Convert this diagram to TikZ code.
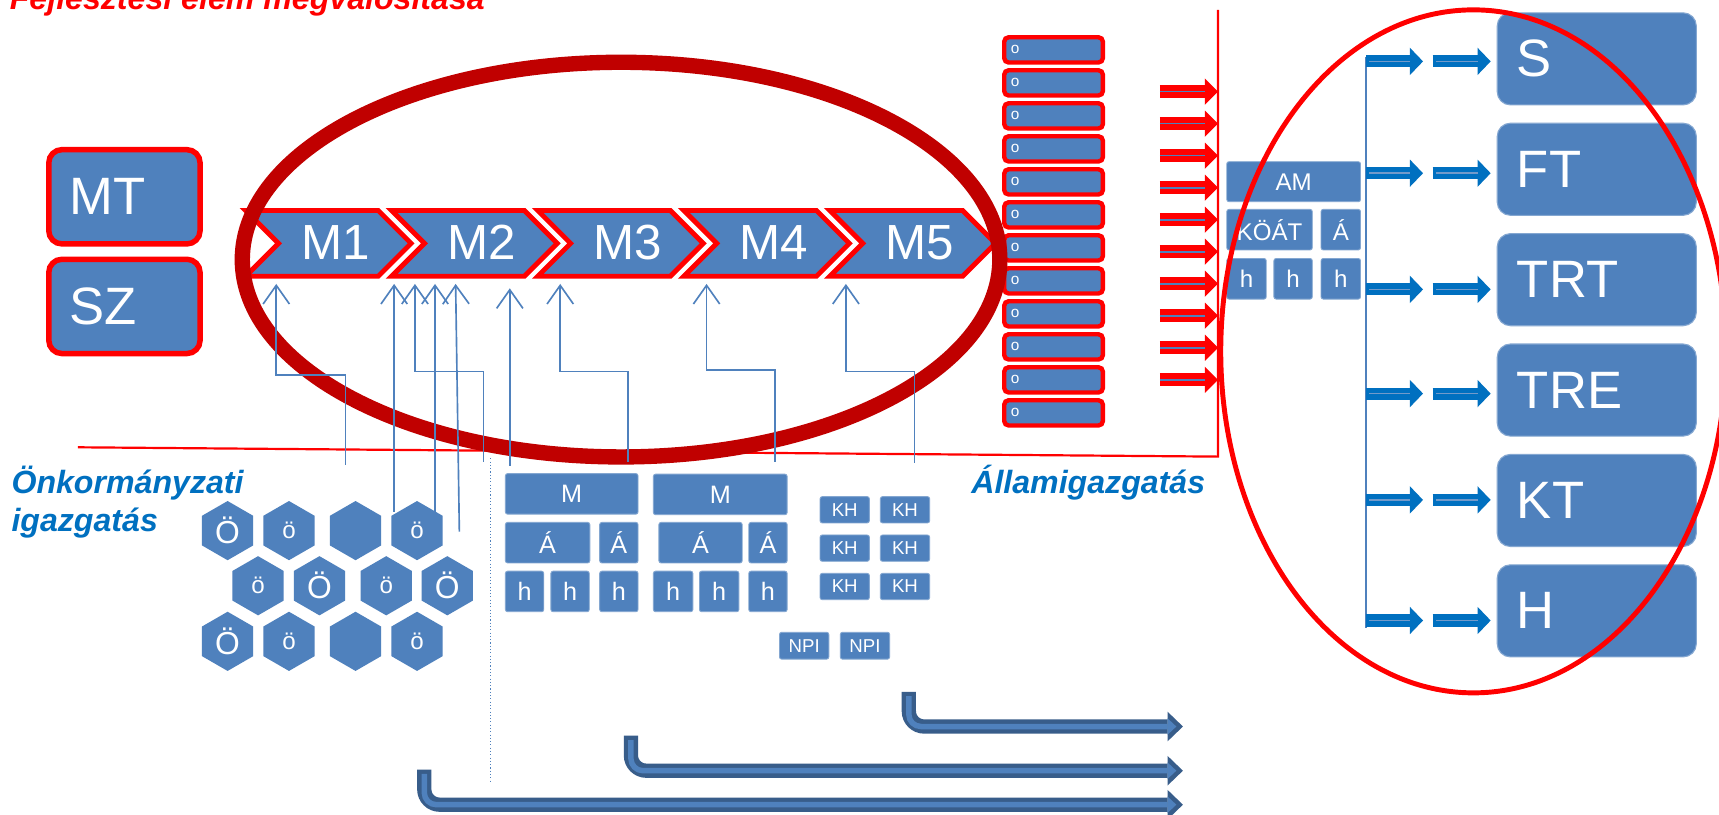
\documentclass[tikz,border=0pt]{standalone}
\usepackage{fontspec}
\setmainfont{Liberation Sans}
\usepackage{tikz}
\usetikzlibrary{arrows.meta,shapes.geometric,calc}

\definecolor{boxblue}{HTML}{4F81BD}
\definecolor{ringred}{HTML}{C00000}
\definecolor{labelblue}{HTML}{0070C0}
\definecolor{bentblue}{HTML}{385D8A}

\newcommand{\sz}[1]{\fontsize{#1}{#1}\selectfont}

\begin{document}
\begin{tikzpicture}[%
    x=1pt, y=-1pt,
    every node/.style={inner sep=0pt, outer sep=0pt, text=white},
    bigbox/.style={fill=boxblue, draw=boxblue!70!white, line width=1pt,
        rounded corners=12pt, minimum height=84pt, align=left, font=\sz{48}},
    redbox/.style={bigbox, draw=red, line width=5pt, minimum width=138pt,
        minimum height=86pt, text width=100pt, inner xsep=19pt},
    rightbox/.style={bigbox, minimum width=181.6pt, text width=145.6pt, inner xsep=18pt},
    smallbox/.style={fill=boxblue, draw=boxblue!70!white, line width=.8pt, rounded corners=2pt},
    obox/.style={fill=boxblue, draw=red, line width=4pt, rounded corners=4pt,
        minimum height=23pt, text width=78pt, inner xsep=6pt, align=left, font=\sz{14}},
    hexcell/.style={regular polygon, regular polygon sides=6, shape border rotate=30,
        minimum size=54pt, fill=boxblue},
    chevron/.style={fill=boxblue, draw=red, line width=4.5pt},
    chevtext/.style={font=\sz{45}},
    conn/.style={draw=boxblue, line width=1.5pt, -{Straight Barb[length=17pt,width=24pt]}},
    redarrow/.style={draw=red, line width=12pt,
        -{Triangle[length=12pt,width=24pt,line width=0pt]},
        postaction={draw=boxblue, line width=1.5pt, arrows=-, shorten >=12pt}},
    bluearrow/.style={draw=labelblue, line width=11pt,
        -{Triangle[length=12pt,width=25pt,line width=0pt]},
        postaction={draw=boxblue!80!white, line width=1.5pt, arrows=-, shorten >=12pt, shorten <=3pt}},
    bentouter/.style={draw=bentblue, line width=13pt, rounded corners=14pt,
        -{Triangle[length=14pt,width=27pt,line width=0pt]}},
    bentinner/.style={draw=boxblue, line width=5pt, rounded corners=11pt,
        -{Triangle[length=8pt,width=15pt,line width=0pt]}},
    heading/.style={font=\sz{29.3}\bfseries\itshape, anchor=base west},
]

\useasboundingbox (0,0) rectangle (1568,743);
\fill[white] (0,0) rectangle (1568,743);

% red border between the two sides
\coordinate (line start) at (71,408);
\coordinate (wall corner) at (1111,416.5);
\coordinate (wall top) at (1111,9);
\draw[red, line width=2pt] (line start) -- (wall corner) -- (wall top);

% chevrons M1 ... M5
\foreach \i in {1,...,5}{
    \pgfmathsetmacro{\L}{222+133.25*(\i-1)}
    \filldraw[chevron] (\L+2,192) -- (\L+123,192) -- (\L+153,222) -- (\L+123,252)
        -- (\L+2,252) -- (\L+32,222) -- cycle;
    \node[chevtext] (M\i) at (\L+84,221) {M\i};
    \coordinate (foot\i) at (\L,259);
}

% left boxes
\node[redbox] (MT) at (113.5,179.5) {MT};
\node[redbox] (SZ) at (113.5,279.5) {SZ};

% column of o boxes
\foreach \i in {1,...,12}{
    \pgfmathsetmacro{\y}{45.5+30.1*(\i-1)}
    \node[obox] (o\i) at (961,\y) {o};
}

% hexagons
\foreach \n/\x/\y/\txt/\fsz in {
    1/207.6/484/Ö/29, 2/263.6/484/ö/22, 3/324.3/484//22, 4/380.4/484/ö/22,
    5/235.4/534.3/ö/22, 6/291.4/534.3/Ö/29, 7/352.3/534.3/ö/22, 8/408/534.3/Ö/29,
    9/207.6/585/Ö/29, 10/263.6/585/ö/22, 11/324.3/585//22, 12/380.4/585/ö/22}{
    \node[hexcell, font=\sz{\fsz}] (hx\n) at (\x,\y) {\txt};
}

% small boxes
\foreach \n/\x/\y/\bw/\bh/\txt/\fsz in {
    m1/521.5/450.5/121/37/M/23, a1/499.5/495/77/37/Á/23, a2/564.5/495/35/37/Á/23,
    h1/478.5/539.5/35/37/h/23, h2/520/539.5/35/37/h/23, h3/564.5/539.5/35/37/h/23,
    m2/657/451/122/37/M/23, a3/639/495/76/37/Á/23, a4/700.5/495/35/37/Á/23,
    h4/614/539.5/36/37/h/23, h5/656/539.5/36/37/h/23, h6/700.5/539.5/35/37/h/23,
    kh1/770.5/465/45/24/KH/17, kh2/825.5/465/45/24/KH/17,
    kh3/770.5/500/45/24/KH/17, kh4/825.5/500/45/24/KH/17,
    kh5/770.5/535/45/24/KH/17, kh6/825.5/535/45/24/KH/17,
    npi1/733.5/589/45/24.5/NPI/17, npi2/789/589/45/24.5/NPI/17,
    am/1180/165.75/122/36.5/AM/22, koat/1158/209.5/78/37/KÖÁT/22, a5/1223/209.5/36/37/Á/22,
    h7/1137/254.3/36/37/h/22, h8/1179.5/254.3/35/37/h/22, h9/1223/254.3/36/37/h/22}{
    \node[smallbox, minimum width=\bw pt, minimum height=\bh pt, font=\sz{\fsz}] (\n) at (\x,\y) {\txt};
}

% dotted divider
\coordinate (dot top) at (447,418);
\coordinate (dot bot) at (447,713);
\draw[boxblue, dotted, line width=1pt] (dot top) -- (dot bot);

% ring round the chevrons
\draw[ringred, line width=14pt] (566.5,236.8) ellipse [x radius=345.5pt, y radius=180pt];

% connectors up to the chevrons
\coordinate (sA) at (315,424);
\coordinate (sB) at (359.5,467);
\coordinate (sC) at (441,421);
\coordinate (sD) at (396.8,485);
\coordinate (sE) at (419,485);
\coordinate (sF) at (465,425);
\coordinate (sG) at (573,421);
\coordinate (sH) at (706.8,421);
\coordinate (sI) at (834,422);
\draw[conn] (sA) |- (252,342) -- (252,0 |- foot1);
\draw[conn] (sB) -- (sB |- foot2);
\draw[conn] (sC) |- (378.5,339) -- (378.5,0 |- foot2);
\draw[conn] (sD) -- (sD |- foot2);
\draw[conn] (sE) -- (415.6,0 |- foot2);
\draw[conn, shorten >=4pt] (sF) -- (sF |- foot2);
\draw[conn] (sG) |- (511,339) -- (511,0 |- foot3);
\draw[conn] (sH) |- (644.5,337.4) -- (644.5,0 |- foot4);
\draw[conn] (sI) |- (771.6,339) -- (771.6,0 |- foot5);

% red arrows to the wall
\foreach \i [evaluate=\i as \y using 83.6+29.2*\i] in {0,...,9}{
    \draw[redarrow] (1058,\y) -- (wall top |- 0,\y);
}

% right boxes
\foreach \n [count=\i from 0] in {S,FT,TRT,TRE,KT,H}{
    \node[rightbox] (\n) at (1456.5,53.7+100.7*\i) {\n};
}

% bus and blue arrows
\coordinate (bus top) at (1246,52);
\coordinate (bus bot) at (1246,573);
\draw[boxblue, line width=1.5pt] (bus top) -- (bus bot);
\foreach \b/\y in {S/56,FT/158,TRT/264,TRE/359,KT/456,H/566}{
    \draw[bluearrow] (bus top |- 0,\y) -- ++(52,0);
    \draw[bluearrow] ($(\b.west |- 0,\y)+(-59,0)$) -- ($(\b.west |- 0,\y)+(-6,0)$);
}

% ring round the right side
\draw[red, line width=4.5pt] (1344,320.5) ellipse [x radius=230.5pt, y radius=311.5pt];

% bent arrows at the bottom
\foreach \x/\t/\y in {829/631/662.7, 575.5/671/703, 387/702/734}{
    \draw[bentouter] (\x,\t) -- (\x,\y) -- (1079,\y);
    \draw[bentinner] (\x,\t+4) -- (\x,\y) -- (1073,\y);
}

% headings
\node[heading, text=red] (title) at (9,9) {Fejlesztési elem megvalósítása};
\node[heading, text=labelblue] (onk) at (10.5,450) {Önkormányzati};
\node[heading, text=labelblue] (onk2) at (10.5,485) {igazgatás};
\node[heading, text=labelblue] (allam) at (886,450) {Államigazgatás};

\end{tikzpicture}
\end{document}
